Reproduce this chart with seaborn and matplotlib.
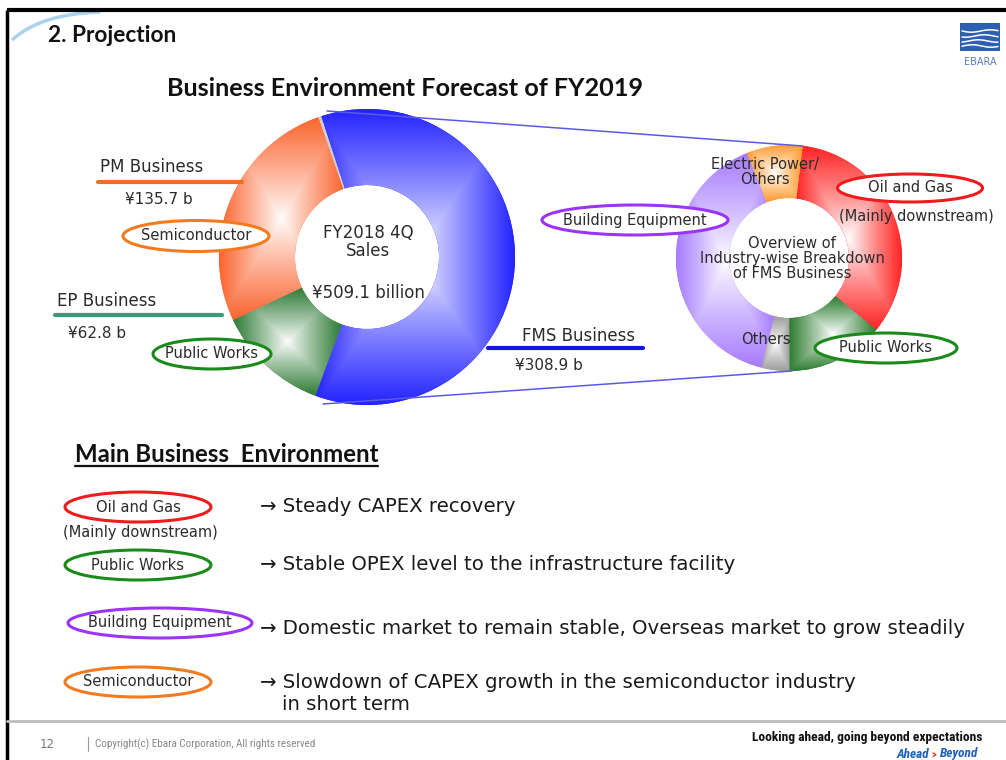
import numpy as np
import matplotlib
matplotlib.use("Agg")
import matplotlib.pyplot as plt
import matplotlib.colors as mcolors
import seaborn as sns
from matplotlib.patches import Ellipse, Rectangle, PathPatch
from matplotlib.path import Path

# FY2018 4Q sales by business (JPY billion)
sales_labels = ['FMS Business', 'EP Business', 'PM Business', 'Others']
sales_values = [308.9, 62.8, 135.7, 1.7]
sales_colors = ['#2323ff', '#2e7b36', '#fb6530', '#cfcfcf']

# FMS business, industry-wise breakdown (share %)
fms_labels = ['Oil and Gas', 'Public Works', 'Others', 'Building Equipment',
              'Electric Power/Others']
fms_shares = [34, 14, 4, 40, 8]
fms_colors = ['#ff2424', '#2e7d32', '#9c9c9c', '#a67bff', '#ff9a2e']

# main business environment
env_tags = ['Oil and Gas', 'Public Works', 'Building Equipment', 'Semiconductor']
env_tag_colors = ['#ee1c1c', '#1a8a1a', '#9b35f5', '#f47a1f']
env_notes = ['Steady CAPEX recovery',
             'Stable OPEX level to the infrastructure facility',
             'Domestic market to remain stable, Overseas market to grow steadily',
             'Slowdown of CAPEX growth in the semiconductor industry\nin short term']

TXT = '#2b2b2b'
NARROW = ['Roboto Condensed', 'Roboto', 'DejaVu Sans']
CAL = ['Lato', 'DejaVu Sans']


def shade_wedges(ax, wedges, colors, center, r_out, r_in, power=0.9):
    ''' path-like gradient: white in the middle of each slice, colour at its edge '''
    cx, cy = center
    for w, c in zip(wedges, colors):
        th = np.radians(np.linspace(w.theta1, w.theta2, 200))
        xs = np.concatenate([cx + r_out * np.cos(th), cx + r_in * np.cos(th)])
        ys = np.concatenate([cy + r_out * np.sin(th), cy + r_in * np.sin(th)])
        x0, x1, y0, y1 = xs.min(), xs.max(), ys.min(), ys.max()
        gx, gy = np.meshgrid(np.linspace(x0, x1, 300), np.linspace(y0, y1, 300))
        tx = np.abs(gx - (x0 + x1) / 2) / ((x1 - x0) / 2 + 1e-9)
        ty = np.abs(gy - (y0 + y1) / 2) / ((y1 - y0) / 2 + 1e-9)
        t = np.clip(np.maximum(tx, ty), 0, 1) ** power
        rgb = np.array(mcolors.to_rgb(c))
        img = 1 - t[..., None] * (1 - rgb)
        im = ax.imshow(img, extent=(x0, x1, y0, y1), origin='lower',
                       zorder=2, interpolation='bilinear')
        im.set_clip_path(w)


def tag(ax, x, y, w, h, text, color, size=10.5):
    ax.add_patch(Ellipse((x, y), w, h, facecolor='white', edgecolor=color,
                         lw=2.2, zorder=5))
    ax.text(x, y, text, ha='center', va='center', fontsize=size, color=TXT, zorder=6)


sns.set_theme(style='white')
plt.rcParams['font.family'] = ['DejaVu Sans']

fig = plt.figure(figsize=(10.06, 7.6), dpi=100)
ax = fig.add_axes([0, 0, 1, 1])

# ---- big donut: sales ----
big_c, big_r, big_in = (367, 257), 148, 72
wedges, _ = ax.pie(sales_values, colors=sales_colors, center=big_c, radius=big_r,
                   startangle=-108, counterclock=True,
                   wedgeprops=dict(width=big_r - big_in, linewidth=0, zorder=1))
shade_wedges(ax, wedges[:3], sales_colors[:3], big_c, big_r, big_in)

# ---- small donut: FMS breakdown ----
sm_c, sm_r, sm_in = (789, 258), 113, 60
wedges2, _ = ax.pie(fms_shares, colors=fms_colors, center=sm_c, radius=sm_r,
                    startangle=-83, counterclock=True,
                    wedgeprops=dict(width=sm_r - sm_in, linewidth=0, zorder=1))
shade_wedges(ax, wedges2, fms_colors, sm_c, sm_r, sm_in)

# connector lines between the donuts
ax.plot([327, 803], [111, 146], color='#5a5ae6', lw=1.1, zorder=3)
ax.plot([323, 792], [404, 371], color='#5a5ae6', lw=1.1, zorder=3)

# centre texts
ax.text(368, 242, 'FY2018 4Q\nSales', ha='center', va='center', fontsize=12,
        color=TXT, linespacing=1.05, zorder=6)
ax.text(368, 293, '¥509.1 billion', ha='center', va='center', fontsize=12,
        color=TXT, zorder=6)
ax.text(792, 258, 'Overview of\nIndustry-wise Breakdown\nof FMS Business',
        ha='center', va='center', fontsize=10.5, color=TXT, linespacing=1.0, zorder=6)

# business labels
ax.text(100, 167, 'PM Business', ha='left', va='center', fontsize=12, color=TXT)
ax.plot([98, 242], [182, 182], color='#f07020', lw=3)
ax.text(125, 200, '¥135.7 b', ha='left', va='center', fontsize=11, color=TXT)
ax.text(57, 301, 'EP Business', ha='left', va='center', fontsize=12, color=TXT)
ax.plot([55, 222], [315, 315], color='#3a9b7c', lw=3)
ax.text(68, 333, '¥62.8 b', ha='left', va='center', fontsize=11, color=TXT)
ax.text(522, 336, 'FMS Business', ha='left', va='center', fontsize=12, color=TXT)
ax.plot([488, 643], [348, 348], color='#1414e0', lw=3, zorder=4)
ax.text(515, 366, '¥308.9 b', ha='left', va='center', fontsize=11, color=TXT)

tag(ax, 196, 236, 146, 31, 'Semiconductor', '#f47a1f')
tag(ax, 212, 354, 118, 30, 'Public Works', '#1a8a1a')

# small donut labels
ax.text(765, 172, 'Electric Power/\nOthers', ha='center', va='center', fontsize=10.5,
        color=TXT, linespacing=1.0, zorder=6)
tag(ax, 910, 188, 145, 28, 'Oil and Gas', '#ee1c1c')
ax.text(916, 216, '(Mainly downstream)', ha='center', va='center', fontsize=10.5,
        color=TXT, zorder=6)
tag(ax, 635, 220, 186, 30, 'Building Equipment', '#9b35f5')
ax.text(766, 340, 'Others', ha='center', va='center', fontsize=10.5, color=TXT, zorder=6)
tag(ax, 886, 348, 142, 30, 'Public Works', '#1a8a1a')

# titles
ax.text(48, 35, '2. Projection', ha='left', va='center', fontsize=16.3,
        fontweight='bold', color='#111111', family=CAL)
ax.text(405, 88, 'Business Environment Forecast of FY2019', ha='center', va='center',
        fontsize=18.2, fontweight='bold', color='#111111', family=CAL)
head = ax.text(75, 455, 'Main Business  Environment', ha='left', va='center',
               fontsize=17.3, fontweight='bold', color='#111111', family=CAL)

# ---- main business environment list ----
tag_pos = [(138, 507, 146), (138, 565, 146), (160, 623, 184), (138, 682, 146)]
note_y = [507, 564, 629, 683]
for (x, y, w), name, col, note, ny in zip(tag_pos, env_tags, env_tag_colors, env_notes, note_y):
    tag(ax, x, y, w, 30, name, col)
    lines = note.split('\n')
    ax.text(260, ny, '→ ' + lines[0], ha='left', va='center', fontsize=14.2, color='#1a1a1a')
    if len(lines) > 1:
        ax.text(282, ny + 22, lines[1], ha='left', va='center', fontsize=14.2, color='#1a1a1a')
ax.text(140, 532, '(Mainly downstream)', ha='center', va='center', fontsize=10.5, color=TXT)

# ---- slide frame, logo and footer ----
ax.plot([7, 1006], [10, 10], color='black', lw=3, solid_capstyle='butt')
ax.plot([7, 7], [10, 760], color='black', lw=2.5, solid_capstyle='butt')
ax.plot([7, 1006], [721, 721], color='#bdbdbd', lw=2)
swoosh = Path([(12, 40), (40, 14), (100, 12)], [Path.MOVETO, Path.CURVE3, Path.CURVE3])
ax.add_patch(PathPatch(swoosh, facecolor='none', edgecolor='#a9d2ee', lw=2.5))

ax.add_patch(Rectangle((960, 23), 40, 28, facecolor='#2d5fb3', edgecolor='none'))
wx = np.linspace(962, 998, 40)
for k in range(4):
    ax.plot(wx, 31 + k * 5 + 1.2 * np.sin((wx - 962) / 6 + k), color='white', lw=1.1)
ax.text(980, 62, 'EBARA', ha='center', va='center', fontsize=7, color='#5a7fb8')

ax.text(40, 744, '12', ha='left', va='center', fontsize=8.5, color='#777777')
ax.plot([88, 88], [737, 751], color='#999999', lw=0.8)
ax.text(95, 744, 'Copyright(c) Ebara Corporation, All rights reserved', ha='left',
        va='center', fontsize=8, color='#888888', family=NARROW)
ax.text(982, 737, 'Looking ahead, going beyond expectations', ha='right', va='center',
        fontsize=9.7, fontweight='bold', color='#111111', family=NARROW)
ax.text(929, 754, 'Ahead', ha='right', va='center', fontsize=9.5, fontweight='bold',
        style='italic', color='#1f5fbf', family=NARROW)
ax.text(934, 755, '>', ha='center', va='center', fontsize=7.5, fontweight='bold',
        color='#e0301e', family=NARROW)
ax.text(940, 754, 'Beyond', ha='left', va='center', fontsize=9.5, fontweight='bold',
        style='italic', color='#1f5fbf', family=NARROW)

ax.set_xlim(0, 1006)
ax.set_ylim(760, 0)
ax.set_aspect('auto')
ax.axis('off')

# underline for the section heading
fig.canvas.draw()
bb = head.get_window_extent()
inv = ax.transData.inverted()
(ux0, uy), (ux1, _) = inv.transform([[bb.x0, bb.y0], [bb.x1, bb.y0]])
ax.plot([ux0, ux1], [uy - 1, uy - 1], color='#111111', lw=1.6)

fig.savefig('out.png', dpi=100, facecolor='white')
